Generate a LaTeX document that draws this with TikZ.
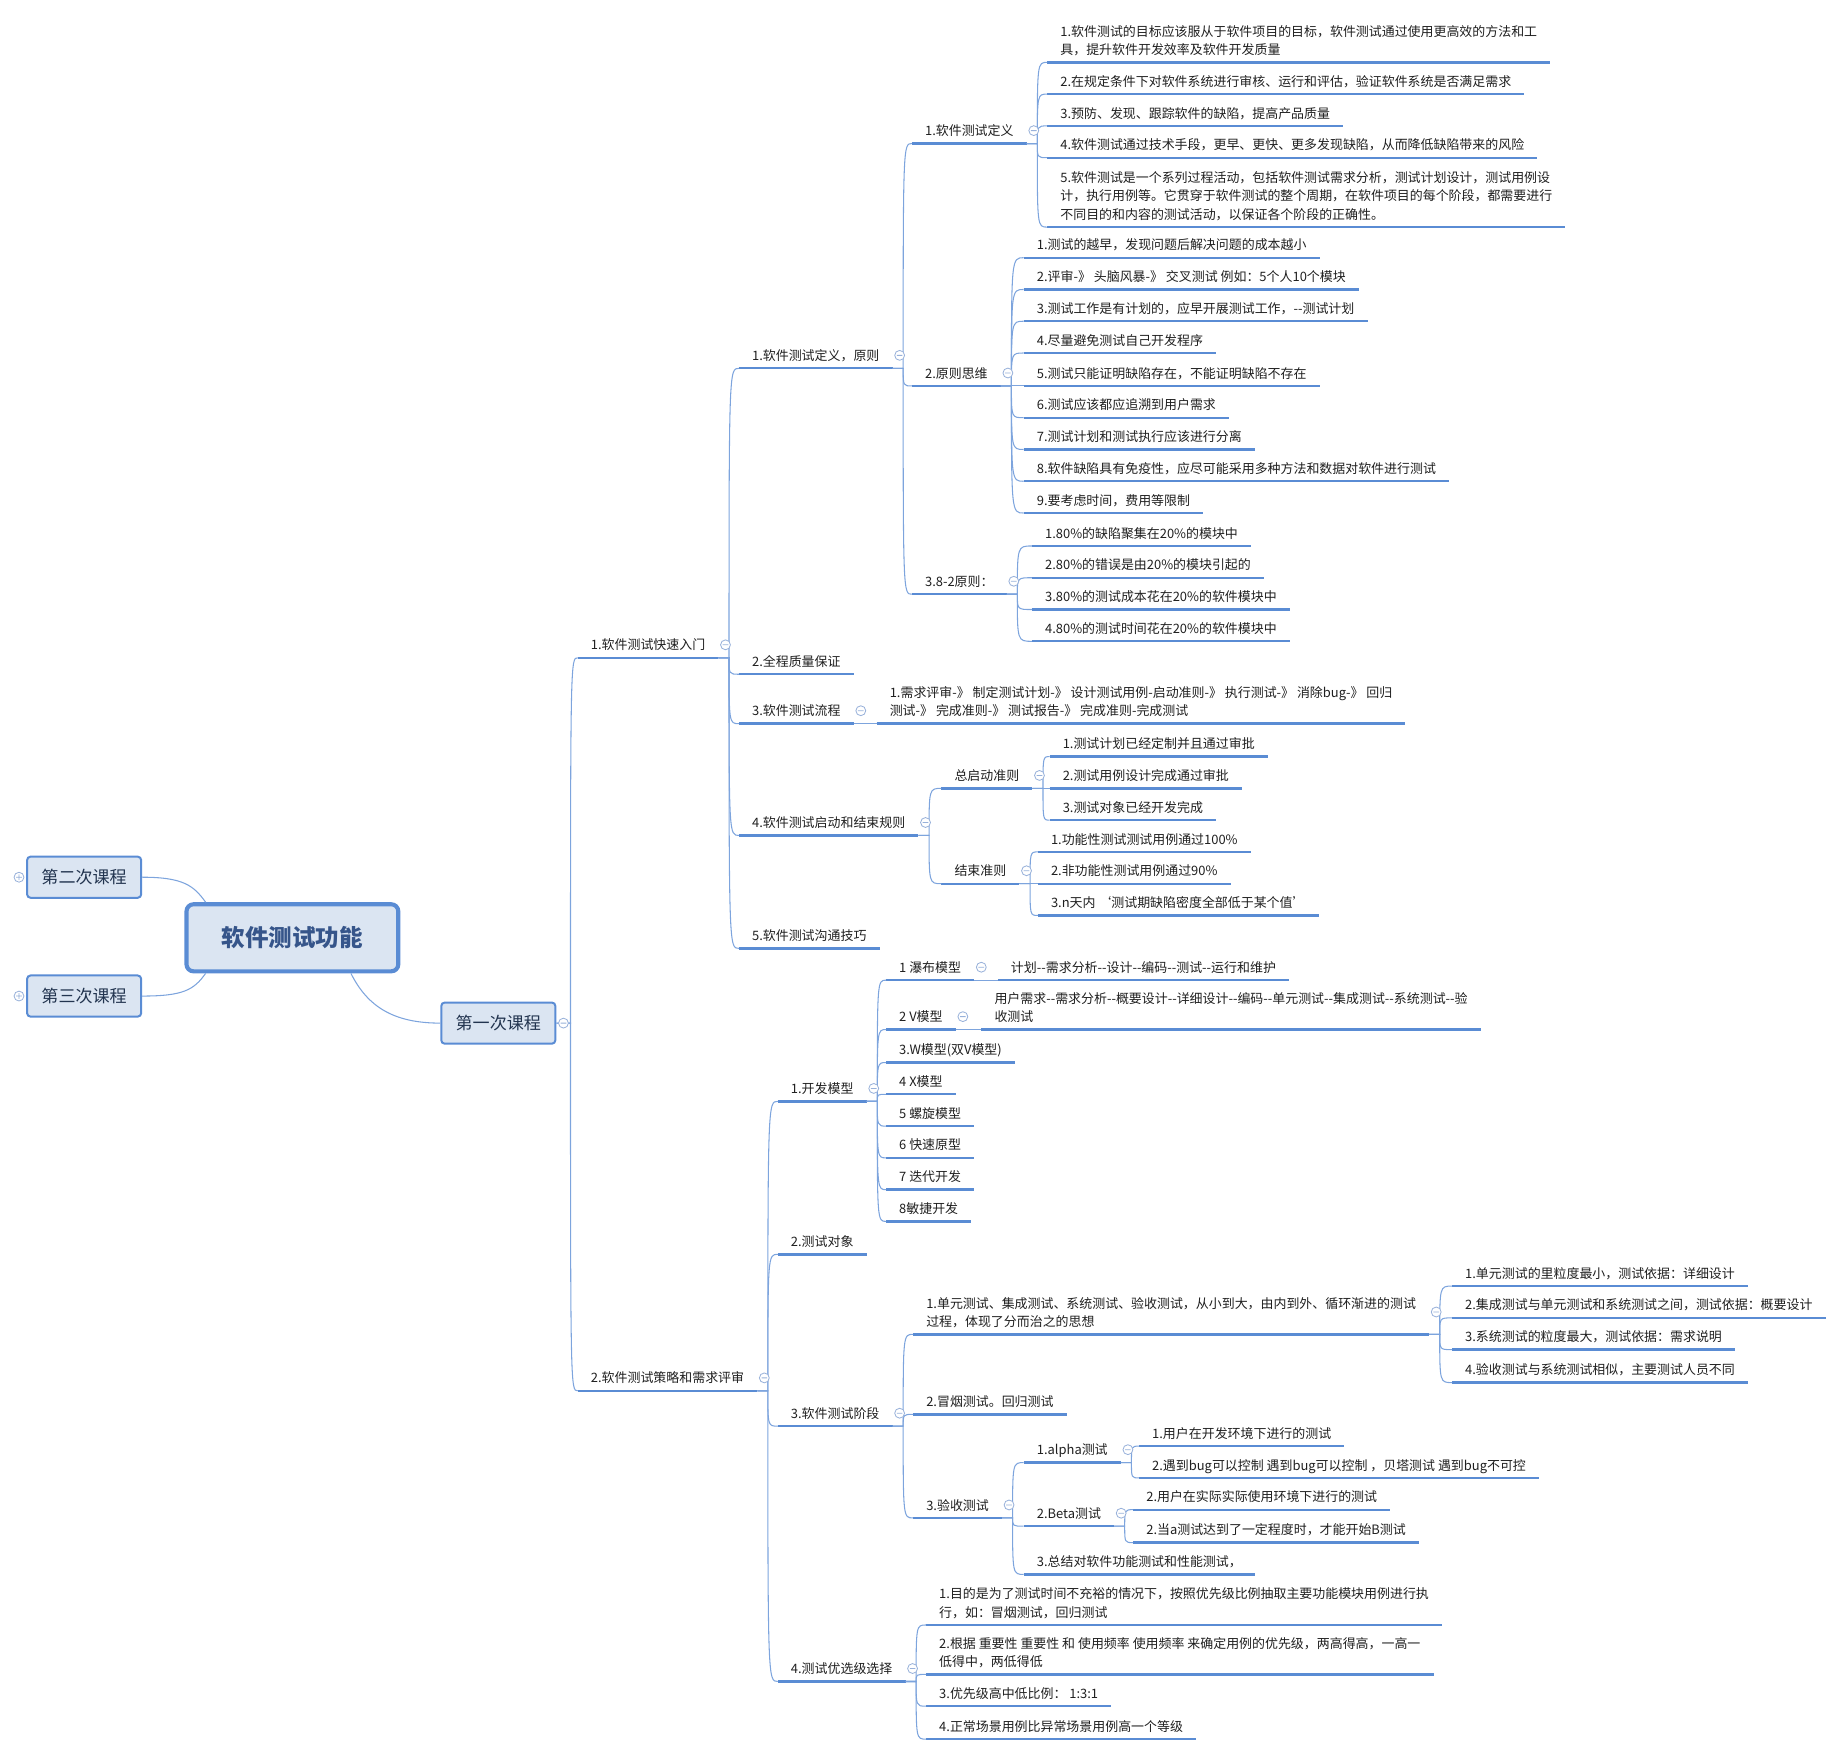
\documentclass[tikz,border=0pt]{standalone}
\usepackage{fontspec}
\setmainfont{Noto Sans CJK SC}[Ligatures=TeXOff]

\definecolor{mapline}{HTML}{5A8CD4}
\definecolor{mapthin}{HTML}{7DA4DD}
\definecolor{mapfill}{HTML}{DBE5F2}
\definecolor{ringcol}{HTML}{98B1DA}
\definecolor{roottext}{HTML}{36558A}
\definecolor{coursetext}{HTML}{22344F}

\newcommand{\minusring}[1]{\draw[ring] (#1) circle (4.2pt) ++(-2.4,0) -- ++(4.8,0);}
\newcommand{\plusring}[1]{\draw[ring] (#1) circle (4.2pt) ++(-2.4,0) -- ++(4.8,0) ++(-2.4,-2.4) -- ++(0,4.8);}

\begin{document}
\begin{tikzpicture}[x=1pt, y=-1pt,
    topic/.style={anchor=south west, inner xsep=11pt, inner ysep=6.5pt, text depth=0pt,
      align=left, font=\fontsize{11}{15.5}\selectfont, text=black!88,
      append after command={(\tikzlastnode.south west) edge[draw=mapline, line width=2pt] (\tikzlastnode.south east)}},
    course/.style={draw=mapline, line width=1.7pt, fill=mapfill, rounded corners=3pt,
      minimum width=97pt, minimum height=35pt, font=\fontsize{14.5}{17}\selectfont, text=coursetext},
    conn/.style={draw=mapthin, line width=0.9pt},
    branch/.style={to path={-- ++(#1,0) coordinate (fk) .. controls (fk |- \tikztotarget) .. (\tikztotarget)}},
    branch/.default=9,
    ring/.style={draw=ringcol, line width=0.7pt, fill=white},
  ]
  \useasboundingbox (0,0) rectangle (1568,1492);

  % Central topic and the three courses
  \node[course, line width=3.5pt, rounded corners=6pt, minimum width=180pt, minimum height=57pt,
    font=\fontsize{20}{22}\selectfont\bfseries, text=roottext] (root) at (248.5,797) {软件测试功能};
  \node[course] (day2) at (71.5,745.5) {第二次课程};
  \node[course] (day3) at (71.5,846.5) {第三次课程};
  \node[course] (day1) at (423.5,869.5) {第一次课程};
  \draw[conn] (day2.east) .. controls +(35,0) and +(-10,-14) .. ([xshift=18pt]root.north west);
  \draw[conn] (day3.east) .. controls +(35,0) and +(-10,14) .. ([xshift=18pt]root.south west);
  \draw[conn] ([xshift=-42pt]root.south east) .. controls +(14,28) and +(-40,0) .. (day1.west);

  % First course: two main branches
  \node[topic] (intro) at (491,559) {1.软件测试快速入门};
  \node[topic] (strat) at (491,1182) {2.软件测试策略和需求评审};
  \foreach \n in {intro,strat}
    \draw[conn] (day1.east) to[branch=12] (\n.south west);

  % 1.软件测试快速入门
  \node[topic] (defp)  at (628,313) {1.软件测试定义，原则};
  \node[topic] (qa)    at (628,573) {2.全程质量保证};
  \node[topic] (flow)  at (628,615) {3.软件测试流程};
  \node[topic] (rules) at (628,710) {4.软件测试启动和结束规则};
  \node[topic] (talk)  at (628,806) {5.软件测试沟通技巧};
  \foreach \n in {defp,qa,flow,rules,talk}
    \draw[conn] (intro.south east) to[branch] (\n.south west);

  % Definition and principles
  \node[topic] (defn)   at (775,122) {1.软件测试定义};
  \node[topic] (think)  at (775,328) {2.原则思维};
  \node[topic] (pareto) at (775,505) {3.8-2原则：};
  \foreach \n in {defn,think,pareto}
    \draw[conn] (defp.south east) to[branch] (\n.south west);

  \node[topic] (defn1) at (890,53) {1.软件测试的目标应该服从于软件项目的目标，软件测试通过使用更高效的方法和工\\具，提升软件开发效率及软件开发质量};
  \node[topic] (defn2) at (890,80) {2.在规定条件下对软件系统进行审核、运行和评估，验证软件系统是否满足需求};
  \node[topic] (defn3) at (890,107) {3.预防、发现、跟踪软件的缺陷，提高产品质量};
  \node[topic] (defn4) at (890,134) {4.软件测试通过技术手段，更早、更快、更多发现缺陷，从而降低缺陷带来的风险};
  \node[topic] (defn5) at (890,193) {5.软件测试是一个系列过程活动，包括软件测试需求分析，测试计划设计，测试用例设\\计，执行用例等。它贯穿于软件测试的整个周期，在软件项目的每个阶段，都需要进行\\不同目的和内容的测试活动，以保证各个阶段的正确性。};
  \foreach \i in {1,...,5}
    \draw[conn] (defn.south east) to[branch] (defn\i.south west);

  \node[topic] (think1) at (870,219) {1.测试的越早，发现问题后解决问题的成本越小};
  \node[topic] (think2) at (870,246) {2.评审-》 头脑风暴-》 交叉测试 例如：5个人10个模块};
  \node[topic] (think3) at (870,273) {3.测试工作是有计划的，应早开展测试工作，--测试计划};
  \node[topic] (think4) at (870,300) {4.尽量避免测试自己开发程序};
  \node[topic] (think5) at (870,328) {5.测试只能证明缺陷存在，不能证明缺陷不存在};
  \node[topic] (think6) at (870,355) {6.测试应该都应追溯到用户需求};
  \node[topic] (think7) at (870,382) {7.测试计划和测试执行应该进行分离};
  \node[topic] (think8) at (870,409) {8.软件缺陷具有免疫性，应尽可能采用多种方法和数据对软件进行测试};
  \node[topic] (think9) at (870,436) {9.要考虑时间，费用等限制};
  \foreach \i in {1,...,9}
    \draw[conn] (think.south east) to[branch] (think\i.south west);

  \node[topic] (pareto1) at (877,464) {1.80\%的缺陷聚集在20\%的模块中};
  \node[topic] (pareto2) at (877,491) {2.80\%的错误是由20\%的模块引起的};
  \node[topic] (pareto3) at (877,518) {3.80\%的测试成本花在20\%的软件模块中};
  \node[topic] (pareto4) at (877,545) {4.80\%的测试时间花在20\%的软件模块中};
  \foreach \i in {1,...,4}
    \draw[conn] (pareto.south east) to[branch] (pareto\i.south west);

  % Test flow
  \node[topic] (flow1) at (745,615) {1.需求评审-》 制定测试计划-》 设计测试用例-启动准则-》 执行测试-》 消除bug-》 回归\\测试-》 完成准则-》 测试报告-》 完成准则-完成测试};
  \draw[conn] (flow.south east) to[branch] (flow1.south west);

  % Start and stop rules
  \node[topic] (start) at (800,670) {总启动准则};
  \node[topic] (stop)  at (800,751) {结束准则};
  \foreach \n in {start,stop}
    \draw[conn] (rules.south east) to[branch] (\n.south west);
  \node[topic] (start1) at (892,643) {1.测试计划已经定制并且通过审批};
  \node[topic] (start2) at (892,670) {2.测试用例设计完成通过审批};
  \node[topic] (start3) at (892,697) {3.测试对象已经开发完成};
  \node[topic] (stop1)  at (882,724) {1.功能性测试测试用例通过100\%};
  \node[topic] (stop2)  at (882,751) {2.非功能性测试用例通过90\%};
  \node[topic] (stop3)  at (882,778) {3.n天内 ‘测试期缺陷密度全部低于某个值’};
  \foreach \i in {1,2,3} {
    \draw[conn] (start.south east) to[branch] (start\i.south west);
    \draw[conn] (stop.south east) to[branch] (stop\i.south west);
  }

  % 2.软件测试策略和需求评审
  \node[topic] (model)  at (661,936) {1.开发模型};
  \node[topic] (target) at (661,1066) {2.测试对象};
  \node[topic] (phase)  at (661,1212) {3.软件测试阶段};
  \node[topic] (prio)   at (661,1429) {4.测试优选级选择};
  \foreach \n in {model,target,phase,prio}
    \draw[conn] (strat.south east) to[branch] (\n.south west);

  % Development models
  \node[topic] (model1) at (753,833) {1 瀑布模型};
  \node[topic] (model2) at (753,875) {2 V模型};
  \node[topic] (model3) at (753,903) {3.W模型(双V模型)};
  \node[topic] (model4) at (753,930) {4 X模型};
  \node[topic] (model5) at (753,957) {5 螺旋模型};
  \node[topic] (model6) at (753,984) {6 快速原型};
  \node[topic] (model7) at (753,1011) {7 迭代开发};
  \node[topic] (model8) at (753,1038) {8敏捷开发};
  \foreach \i in {1,...,8}
    \draw[conn] (model.south east) to[branch] (model\i.south west);
  \node[topic] (water) at (848,833) {计划--需求分析--设计--编码--测试--运行和维护};
  \node[topic] (vee)   at (834,875) {用户需求--需求分析--概要设计--详细设计--编码--单元测试--集成测试--系统测试--验\\收测试};
  \draw[conn] (model1.south east) to[branch] (water.south west);
  \draw[conn] (model2.south east) to[branch] (vee.south west);

  % Test phases
  \node[topic] (stage)  at (776,1134) {1.单元测试、集成测试、系统测试、验收测试，从小到大，由内到外、循环渐进的测试\\过程，体现了分而治之的思想};
  \node[topic] (smoke)  at (776,1202) {2.冒烟测试。回归测试};
  \node[topic] (accept) at (776,1290) {3.验收测试};
  \foreach \n in {stage,smoke,accept}
    \draw[conn] (phase.south east) to[branch] (\n.south west);
  \node[topic] (stage1) at (1234,1093) {1.单元测试的里粒度最小，测试依据：详细设计};
  \node[topic] (stage2) at (1234,1120) {2.集成测试与单元测试和系统测试之间，测试依据：概要设计};
  \node[topic] (stage3) at (1234,1147) {3.系统测试的粒度最大，测试依据：需求说明};
  \node[topic] (stage4) at (1234,1175) {4.验收测试与系统测试相似，主要测试人员不同};
  \foreach \i in {1,...,4}
    \draw[conn] (stage.south east) to[branch] (stage\i.south west);

  % Acceptance tests
  \node[topic] (alpha) at (870,1243) {1.alpha测试};
  \node[topic] (beta)  at (870,1297) {2.Beta测试};
  \node[topic] (summ)  at (870,1338) {3.总结对软件功能测试和性能测试，};
  \foreach \n in {alpha,beta,summ}
    \draw[conn] (accept.south east) to[branch] (\n.south west);
  \node[topic] (alpha1) at (968,1229) {1.用户在开发环境下进行的测试};
  \node[topic] (alpha2) at (968,1256) {2.遇到bug可以控制 遇到bug可以控制 ，贝塔测试 遇到bug不可控};
  \node[topic] (beta1)  at (963,1283) {2.用户在实际实际使用环境下进行的测试};
  \node[topic] (beta2)  at (963,1311) {2.当a测试达到了一定程度时，才能开始B测试};
  \foreach \i in {1,2} {
    \draw[conn] (alpha.south east) to[branch] (alpha\i.south west);
    \draw[conn] (beta.south east) to[branch] (beta\i.south west);
  }

  % Priority selection
  \node[topic] (prio1) at (787,1381) {1.目的是为了测试时间不充裕的情况下，按照优先级比例抽取主要功能模块用例进行执\\行，如：冒烟测试，回归测试};
  \node[topic] (prio2) at (787,1423) {2.根据 重要性 重要性 和 使用频率 使用频率 来确定用例的优先级，两高得高，一高一\\低得中，两低得低};
  \node[topic] (prio3) at (787,1450) {3.优先级高中低比例：  1:3:1};
  \node[topic] (prio4) at (787,1478) {4.正常场景用例比异常场景用例高一个等级};
  \foreach \i in {1,...,4}
    \draw[conn] (prio.south east) to[branch] (prio\i.south west);

  % Fold marks
  \plusring{[xshift=-6pt]day2.west}
  \plusring{[xshift=-6pt]day3.west}
  \minusring{[xshift=6pt]day1.east}
  \foreach \n in {intro,strat,defp,defn,think,pareto,flow,rules,start,stop,
                  model,model1,model2,phase,accept,alpha,beta,prio} {
    \minusring{[shift={(6,-11)}]\n.south east}
  }
  \minusring{[shift={(6,-19)}]stage.south east}
\end{tikzpicture}
\end{document}
